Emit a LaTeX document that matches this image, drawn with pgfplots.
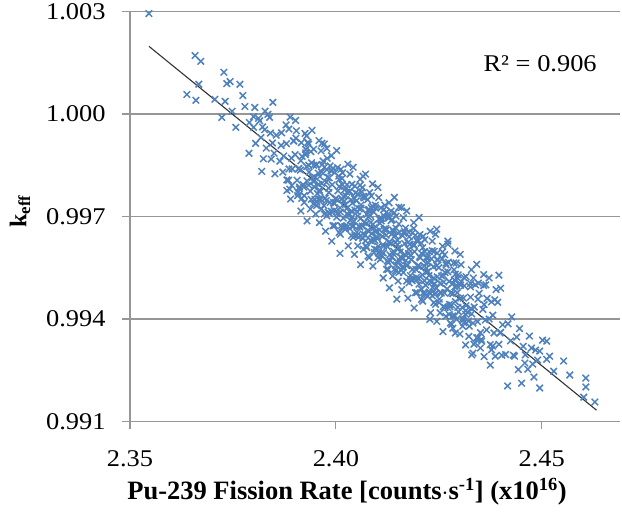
\documentclass[border=0pt]{standalone}
\usepackage{fontspec}
\setmainfont{Liberation Serif}
\newfontfamily\tickfont[FakeStretch=1.1]{Liberation Serif}
\newfontfamily\rfont[FakeStretch=1.1]{Liberation Serif}
\usepackage{pgfplots}
\pgfplotsset{compat=1.18}
\usepackage{pgfplotstable}
\definecolor{markblue}{RGB}{79,129,189}
\definecolor{gridgray}{RGB}{150,150,150}
\pgfplotstableread{
x y
2.3800 0.99961
2.3805 0.99914
2.3812 0.99987
2.3818 0.99931
2.3824 0.99869
2.3827 0.99954
2.3831 0.99900
2.3839 0.99990
2.3843 0.99868
2.3846 0.99915
2.3850 0.99885
2.3855 0.99938
2.3852 0.99825
2.3868 0.99945
2.3864 0.99862
2.3867 0.99908
2.3871 0.99830
2.3879 0.99968
2.3873 0.99877
2.3886 0.99839
2.3880 0.99913
2.3885 0.99806
2.3892 0.99871
2.3898 0.99921
2.3894 0.99839
2.3907 0.99761
2.3901 0.99881
2.3909 0.99839
2.3903 0.99929
2.3906 0.99806
2.3910 0.99841
2.3915 0.99863
2.3912 0.99786
2.3918 0.99876
2.3914 0.99836
2.3927 0.99896
2.3921 0.99793
2.3929 0.99846
2.3923 0.99761
2.3926 0.99881
2.3930 0.99804
2.3935 0.99830
2.3932 0.99917
2.3938 0.99774
2.3934 0.99850
2.3947 0.99787
2.3941 0.99857
2.3949 0.99750
2.3943 0.99814
2.3946 0.99802
2.3950 0.99814
2.3955 0.99767
2.3952 0.99850
2.3958 0.99794
2.3954 0.99742
2.3957 0.99827
2.3961 0.99772
2.3969 0.99862
2.3963 0.99750
2.3966 0.99797
2.3960 0.99777
2.3965 0.99830
2.3972 0.99707
2.3978 0.99837
2.3974 0.99754
2.3977 0.99800
2.3971 0.99732
2.3979 0.99870
2.3983 0.99770
2.3986 0.99741
2.3980 0.99815
2.3985 0.99708
2.3982 0.99783
2.3988 0.99833
2.3994 0.99741
2.3997 0.99673
2.3991 0.99793
2.3999 0.99751
2.3993 0.99841
2.3996 0.99718
2.4000 0.99753
2.4005 0.99775
2.4002 0.99698
2.4008 0.99788
2.4004 0.99748
2.4007 0.99818
2.4001 0.99715
2.4019 0.99758
2.4013 0.99673
2.4016 0.99793
2.4010 0.99725
2.4015 0.99751
2.4012 0.99838
2.4018 0.99695
2.4024 0.99761
2.4027 0.99708
2.4021 0.99778
2.4029 0.99671
2.4023 0.99735
2.4026 0.99723
2.4020 0.99745
2.4035 0.99689
2.4032 0.99772
2.4038 0.99716
2.4034 0.99664
2.4037 0.99749
2.4031 0.99704
2.4039 0.99794
2.4043 0.99672
2.4046 0.99719
2.4040 0.99699
2.4045 0.99752
2.4042 0.99639
2.4048 0.99769
2.4044 0.99686
2.4057 0.99722
2.4051 0.99654
2.4059 0.99792
2.4053 0.99701
2.4056 0.99672
2.4050 0.99746
2.4055 0.99639
2.4052 0.99714
2.4068 0.99754
2.4064 0.99672
2.4067 0.99604
2.4061 0.99724
2.4069 0.99682
2.4063 0.99772
2.4066 0.99649
2.4060 0.99694
2.4075 0.99706
2.4072 0.99629
2.4078 0.99719
2.4074 0.99679
2.4077 0.99749
2.4071 0.99646
2.4079 0.99699
2.4073 0.99614
2.4086 0.99725
2.4080 0.99657
2.4085 0.99683
2.4082 0.99770
2.4088 0.99627
2.4084 0.99703
2.4087 0.99650
2.4081 0.99720
2.4099 0.99603
2.4093 0.99667
2.4096 0.99655
2.4090 0.99677
2.4095 0.99630
2.4092 0.99713
2.4098 0.99657
2.4094 0.99605
2.4107 0.99680
2.4101 0.99635
2.4109 0.99725
2.4103 0.99613
2.4106 0.99660
2.4100 0.99640
2.4105 0.99693
2.4102 0.99580
2.4118 0.99700
2.4114 0.99617
2.4117 0.99663
2.4111 0.99595
2.4119 0.99733
2.4113 0.99642
2.4116 0.99613
2.4110 0.99687
2.4125 0.99570
2.4122 0.99645
2.4128 0.99695
2.4124 0.99613
2.4127 0.99545
2.4121 0.99665
2.4129 0.99623
2.4123 0.99713
2.4136 0.99581
2.4130 0.99626
2.4135 0.99648
2.4132 0.99571
2.4138 0.99661
2.4134 0.99621
2.4137 0.99691
2.4131 0.99588
2.4149 0.99631
2.4143 0.99546
2.4146 0.99666
2.4140 0.99598
2.4145 0.99624
2.4142 0.99711
2.4148 0.99568
2.4144 0.99644
2.4157 0.99581
2.4151 0.99651
2.4159 0.99544
2.4153 0.99608
2.4156 0.99596
2.4150 0.99618
2.4155 0.99571
2.4162 0.99644
2.4168 0.99588
2.4164 0.99536
2.4167 0.99621
2.4161 0.99576
2.4169 0.99666
2.4163 0.99554
2.4176 0.99591
2.4170 0.99571
2.4175 0.99624
2.4172 0.99511
2.4178 0.99641
2.4174 0.99558
2.4177 0.99604
2.4181 0.99527
2.4189 0.99665
2.4183 0.99574
2.4186 0.99545
2.4180 0.99619
2.4185 0.99512
2.4182 0.99587
2.4198 0.99627
2.4194 0.99545
2.4197 0.99477
2.4191 0.99597
2.4199 0.99555
2.4193 0.99645
2.4196 0.99522
2.4200 0.99557
2.4205 0.99579
2.4202 0.99502
2.4208 0.99592
2.4204 0.99552
2.4207 0.99622
2.4201 0.99519
2.4219 0.99562
2.4213 0.99477
2.4216 0.99597
2.4210 0.99529
2.4215 0.99555
2.4212 0.99642
2.4218 0.99499
2.4224 0.99565
2.4227 0.99512
2.4221 0.99582
2.4229 0.99475
2.4223 0.99539
2.4226 0.99527
2.4220 0.99549
2.4235 0.99493
2.4232 0.99576
2.4238 0.99520
2.4234 0.99468
2.4237 0.99553
2.4231 0.99508
2.4239 0.99598
2.4243 0.99476
2.4246 0.99523
2.4240 0.99503
2.4245 0.99556
2.4242 0.99443
2.4248 0.99573
2.4244 0.99490
2.4257 0.99526
2.4251 0.99458
2.4259 0.99596
2.4253 0.99505
2.4256 0.99476
2.4250 0.99550
2.4265 0.99433
2.4262 0.99508
2.4268 0.99558
2.4264 0.99476
2.4267 0.99408
2.4261 0.99528
2.4279 0.99476
2.4273 0.99566
2.4276 0.99443
2.4270 0.99488
2.4275 0.99510
2.4272 0.99433
2.4288 0.99514
2.4284 0.99474
2.4287 0.99544
2.4281 0.99441
2.4289 0.99494
2.4283 0.99409
2.4296 0.99519
2.4290 0.99451
2.4295 0.99477
2.4292 0.99564
2.4298 0.99421
2.4294 0.99497
2.4307 0.99434
2.4301 0.99504
2.4309 0.99397
2.4303 0.99461
2.4316 0.99439
2.4310 0.99461
2.4315 0.99414
2.4312 0.99497
2.4328 0.99431
2.4324 0.99379
2.4327 0.99464
2.4321 0.99419
2.4339 0.99500
2.4333 0.99388
2.4336 0.99435
2.4330 0.99415
2.4345 0.99458
2.4342 0.99345
2.4348 0.99475
2.4344 0.99392
2.4357 0.99428
2.4351 0.99360
2.4359 0.99498
2.4363 0.99397
2.4366 0.99368
2.4360 0.99442
2.4375 0.99325
2.4372 0.99400
2.4378 0.99450
2.4384 0.99359
2.4387 0.99291
2.4381 0.99411
2.4399 0.99359
2.4393 0.99449
2.4396 0.99326
2.4400 0.99361
2.4405 0.99383
2.4412 0.99296
2.4418 0.99386
2.4424 0.99336
2.4427 0.99406
2.4431 0.99294
2.4439 0.99347
2.4443 0.99252
2.4446 0.99372
2.3886 0.99956
2.3881 0.99776
2.3889 0.99991
2.3893 0.99791
2.3897 0.99921
2.3890 0.99751
2.3904 0.99951
2.3908 0.99771
2.3902 0.99981
2.3915 0.99716
2.3916 0.99916
2.3911 0.99781
2.3929 0.99936
2.3923 0.99741
2.3927 0.99896
2.3930 0.99687
2.3934 0.99912
2.3938 0.99722
2.3942 0.99952
2.3945 0.99737
2.3946 0.99897
2.3951 0.99707
2.3959 0.99922
2.3953 0.99732
2.3967 0.99852
2.3960 0.99682
2.3964 0.99892
2.3978 0.99702
2.3972 0.99912
2.3975 0.99657
2.3986 0.99848
2.3981 0.99713
2.3989 0.99878
2.3993 0.99673
2.3997 0.99828
2.3990 0.99628
2.4004 0.99843
2.4008 0.99653
2.4002 0.99893
2.4015 0.99668
2.4016 0.99828
2.4011 0.99648
2.4029 0.99853
2.4023 0.99663
2.4027 0.99793
2.4030 0.99614
2.4034 0.99824
2.4038 0.99644
2.4042 0.99844
2.4045 0.99589
2.4046 0.99789
2.4051 0.99644
2.4059 0.99809
2.4053 0.99614
2.4067 0.99759
2.4060 0.99559
2.4064 0.99784
2.4078 0.99584
2.4072 0.99824
2.4075 0.99609
2.4086 0.99760
2.4081 0.99580
2.4089 0.99795
2.4093 0.99595
2.4097 0.99725
2.4090 0.99555
2.4104 0.99755
2.4108 0.99575
2.4102 0.99785
2.4115 0.99520
2.4116 0.99720
2.4111 0.99585
2.4129 0.99740
2.4123 0.99545
2.4127 0.99700
2.4130 0.99491
2.4134 0.99716
2.4138 0.99526
2.4142 0.99756
2.4145 0.99541
2.4146 0.99701
2.4151 0.99511
2.4159 0.99726
2.4153 0.99536
2.4167 0.99656
2.4160 0.99486
2.4164 0.99696
2.4178 0.99506
2.4172 0.99716
2.4175 0.99461
2.4186 0.99652
2.4181 0.99517
2.4189 0.99682
2.4193 0.99477
2.4197 0.99632
2.4190 0.99432
2.4204 0.99647
2.4208 0.99457
2.4202 0.99697
2.4215 0.99472
2.4216 0.99632
2.4211 0.99452
2.4229 0.99657
2.4223 0.99467
2.4227 0.99597
2.4230 0.99418
2.4234 0.99628
2.4238 0.99448
2.4242 0.99648
2.4245 0.99393
2.4246 0.99593
2.4251 0.99448
2.4259 0.99613
2.4253 0.99418
2.4267 0.99563
2.4260 0.99363
2.4264 0.99588
2.4278 0.99388
2.4272 0.99628
2.4275 0.99413
2.4286 0.99564
2.4281 0.99384
2.4289 0.99599
2.4293 0.99399
2.4297 0.99529
2.4290 0.99359
2.4304 0.99559
2.4308 0.99379
2.4302 0.99589
2.4315 0.99324
2.4316 0.99524
2.4311 0.99389
2.4329 0.99544
2.4323 0.99349
2.4327 0.99504
2.4330 0.99295
2.4334 0.99520
2.4338 0.99330
2.4342 0.99560
2.4345 0.99345
2.4346 0.99505
2.4351 0.99315
2.4359 0.99530
2.4353 0.99340
2.4367 0.99460
2.4360 0.99290
2.4364 0.99500
2.4378 0.99310
2.4372 0.99520
2.4375 0.99265
2.4386 0.99456
2.4381 0.99321
2.4389 0.99486
2.3922 0.99786
2.3927 0.99886
2.3934 0.99792
2.3939 0.99890
2.3940 0.99750
2.3946 0.99850
2.3953 0.99852
2.3958 0.99750
2.3961 0.99817
2.3965 0.99722
2.3972 0.99844
2.3977 0.99747
2.3984 0.99813
2.3989 0.99715
2.3990 0.99835
2.3996 0.99738
2.4003 0.99708
2.4008 0.99808
2.4011 0.99713
2.4015 0.99811
2.4022 0.99671
2.4027 0.99771
2.4034 0.99774
2.4039 0.99672
2.4040 0.99739
2.4046 0.99644
2.4053 0.99766
2.4058 0.99669
2.4061 0.99734
2.4065 0.99636
2.4072 0.99756
2.4077 0.99659
2.4084 0.99630
2.4089 0.99730
2.4090 0.99635
2.4096 0.99733
2.4103 0.99593
2.4108 0.99693
2.4111 0.99695
2.4115 0.99593
2.4122 0.99660
2.4127 0.99565
2.4134 0.99688
2.4139 0.99591
2.4140 0.99656
2.4146 0.99558
2.4153 0.99678
2.4158 0.99581
2.4161 0.99551
2.4165 0.99651
2.4172 0.99556
2.4177 0.99654
2.4184 0.99515
2.4189 0.99615
2.4190 0.99617
2.4196 0.99515
2.4203 0.99582
2.4208 0.99487
2.4211 0.99609
2.4215 0.99512
2.4222 0.99577
2.4227 0.99479
2.4234 0.99600
2.4239 0.99503
2.4240 0.99473
2.4246 0.99573
2.4253 0.99478
2.4258 0.99576
2.4261 0.99436
2.4265 0.99536
2.4272 0.99538
2.4277 0.99436
2.4284 0.99504
2.4289 0.99409
2.4290 0.99531
2.4296 0.99434
2.4303 0.99499
2.4308 0.99401
2.4311 0.99521
2.4315 0.99424
2.4322 0.99394
2.4327 0.99494
2.3546 1.00294
2.3658 1.00171
2.3672 1.00154
2.3728 1.00122
2.3735 1.00089
2.3743 1.00095
2.3767 1.00087
2.3667 1.00087
2.3638 1.00057
2.3660 1.00040
2.3706 1.00043
2.3731 1.00037
2.3774 1.00054
2.3847 1.00034
2.3779 1.00022
2.3803 1.00019
2.3828 1.00008
2.3723 0.99990
2.3757 0.99961
2.3748 1.00008
2.3789 0.99885
2.3790 0.99975
2.3800 0.99992
2.3815 0.99980
2.3822 0.99962
2.3835 0.99999
2.3841 0.99944
2.3966 0.99914
2.4066 0.99818
2.4153 0.99727
2.3978 0.99899
2.3925 0.99943
2.4245 0.99663
2.4272 0.99619
2.4396 0.99528
2.4400 0.99490
2.3820 0.99832
2.3888 0.99780
2.3881 0.99807
2.3917 0.99753
2.4010 0.99592
2.4148 0.99458
2.4228 0.99399
2.4335 0.99326
2.4333 0.99300
2.4284 0.99373
2.4301 0.99356
2.4417 0.99204
2.4451 0.99212
2.4495 0.99198
2.4481 0.99230
2.4568 0.99236
2.4607 0.99227
2.4607 0.99201
2.4602 0.99171
2.4629 0.99157
2.4553 0.99277
2.4529 0.99247
2.4512 0.99282
2.4519 0.99291
2.4495 0.99306
2.4502 0.99338
2.4512 0.99335
2.4485 0.99309
2.4354 0.99335
2.4403 0.99294
2.4434 0.99291
2.4459 0.99271
2.4478 0.99268
2.4466 0.99253
2.4455 0.99320
2.4470 0.99350
2.4460 0.99295
2.4490 0.99280
2.4475 0.99315
}\scatterdata
\begin{document}
\begin{tikzpicture}
\begin{axis}[
  scale only axis,
  width=490pt, height=410pt,
  xmin=2.35, xmax=2.469,
  ymin=0.991, ymax=1.003,
  axis x line*=bottom, axis y line*=left,
  axis line style={-, draw=gridgray, line width=1.2pt},
  ymajorgrids=true,
  major grid style={draw=gridgray, line width=1.2pt},
  xtick={2.35,2.40,2.45}, xticklabels={2.35,2.40,2.45},
  ytick={0.991,0.994,0.997,1.000,1.003},
  yticklabels={0.991,0.994,0.997,1.000,1.003},
  tick align=outside, major tick length=8pt,
  major tick style={draw=gridgray, line width=1.2pt},
  x tick label style={font=\tickfont\fontsize{24}{27}\selectfont, yshift=-18pt},
  y tick label style={font=\tickfont\fontsize{24}{27}\selectfont, xshift=-13pt},
  xlabel={Pu-239 Fission Rate [counts$\cdot$s\textsuperscript{-1}] (x10\textsuperscript{16})},
  xlabel style={font=\bfseries\fontsize{26.5}{30}\selectfont, at={(axis description cs:0.443,-0.19)}, anchor=base},
  ylabel={k\textsubscript{eff}},
  ylabel style={font=\bfseries\fontsize{24}{28}\selectfont, at={(axis description cs:-0.2245,0.512)}, anchor=center},
  clip=false,
]
\addplot[only marks, mark=x, mark size=4.6pt, mark options={draw=markblue, line width=1.5pt}] table[x=x, y=y] {\scatterdata};
\addplot[black!80, line width=1.1pt] coordinates {(2.3546,1.00198) (2.4633,0.99133)};
\node[font=\rfont\fontsize{24}{28}\selectfont, anchor=center] at (axis description cs:0.837,0.873) {R²\;=\;0.906};
\end{axis}
\path[use as bounding box] (-130pt,-92pt) rectangle (492pt,420pt);
\end{tikzpicture}
\end{document}
